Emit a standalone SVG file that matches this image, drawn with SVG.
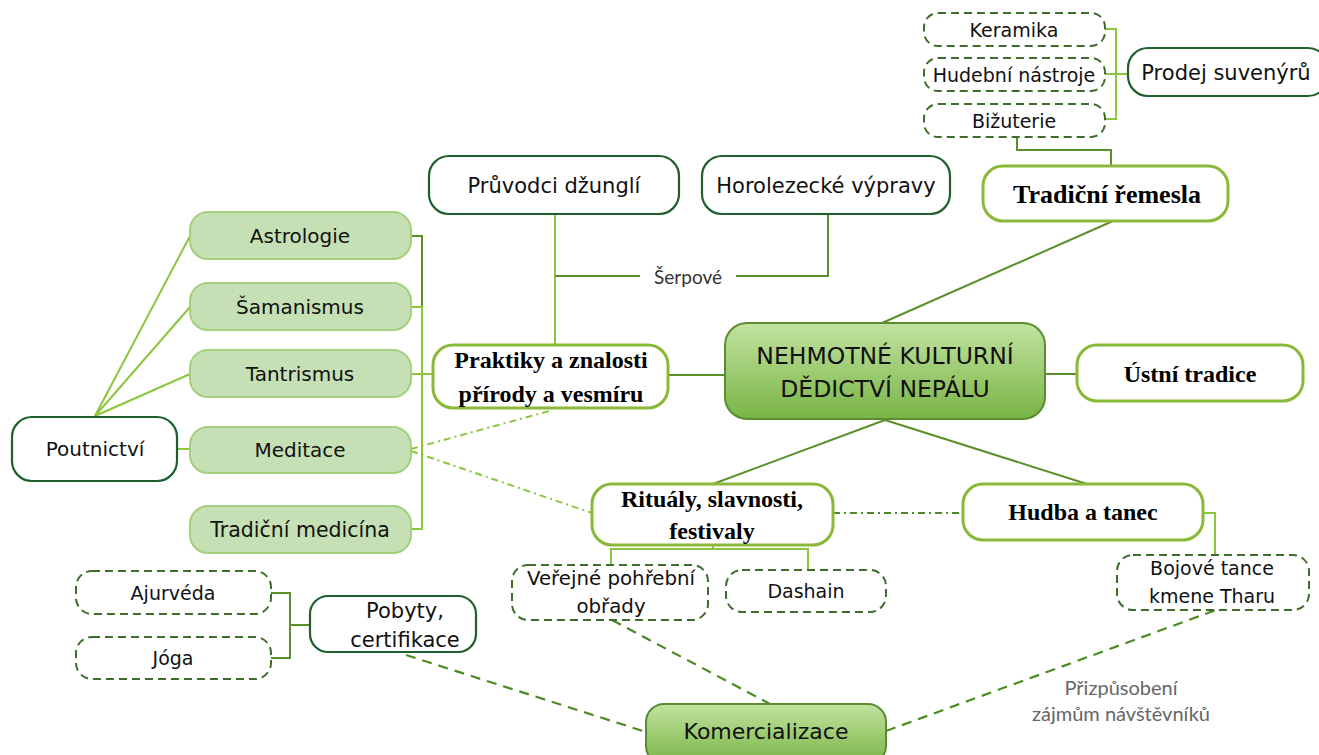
<svg xmlns="http://www.w3.org/2000/svg" width="1319" height="755" viewBox="0 0 1319 755">
<defs>
<linearGradient id="gc" x1="0" y1="0" x2="0" y2="1">
<stop offset="0" stop-color="#c2e3a0"/>
<stop offset="1" stop-color="#79b446"/>
</linearGradient>
<style>
.sans{font-family:"DejaVu Sans",Verdana,sans-serif;fill:#111;text-anchor:middle}
.serif{font-family:"Liberation Serif","Times New Roman",serif;font-weight:bold;fill:#000;text-anchor:middle;font-size:24px}
.lbl{font-family:Lato,"Open Sans",sans-serif;text-anchor:middle}
.dark{fill:#fff;stroke:#1f5f2b;stroke-width:2.2}
.lite{fill:#fff;stroke:#8ab838;stroke-width:3}
.soft{fill:#c5e0b4;stroke:#a6cf7d;stroke-width:2}
.dash{fill:#fff;stroke:#3d6d2a;stroke-width:2;stroke-dasharray:8 5}
.main{fill:url(#gc);stroke:#5a8d30;stroke-width:2}
.c1{fill:none;stroke:#8cc63f;stroke-width:2}
.c2{fill:none;stroke:#5b8f2b;stroke-width:2}
.c3{fill:none;stroke:#4c8a24;stroke-width:2.2;stroke-dasharray:10 7}
.c4{fill:none;stroke:#8cc63f;stroke-width:2;stroke-dasharray:7 4 2 4}
.c5{fill:none;stroke:#4c8a24;stroke-width:2;stroke-dasharray:7 4 2 4}
</style>
</defs>
<rect width="1319" height="755" fill="#fff"/>
<g id="connectors">
<polyline class="c1" points="1105,29 1116,29 1116,119 1105,119"/>
<line class="c1" x1="1105" y1="74" x2="1128" y2="74"/>
<polyline class="c2" points="1017,137 1017,150 1111,150 1111,166"/>
<line class="c2" x1="1113" y1="221" x2="882" y2="323"/>
<polyline class="c1" points="555,214 555,345"/>
<polyline class="c2" points="555,276 640,276"/>
<polyline class="c2" points="736,276 828,276 828,214"/>
<line class="c2" x1="668" y1="375" x2="725" y2="375"/>
<line class="c2" x1="1045" y1="374" x2="1077" y2="374"/>
<line class="c2" x1="885" y1="420" x2="713" y2="484"/>
<line class="c2" x1="885" y1="420" x2="1087" y2="484"/>
<line class="c5" x1="833" y1="513" x2="963" y2="513"/>
<polyline class="c1" points="1203,513 1215,513 1215,555"/>
<polyline class="c1" points="713,545 713,549 611,549 611,565"/>
<polyline class="c1" points="713,549 808,549 808,570"/>
<polyline class="c2" points="411,236 422,236 422,307"/>
<polyline class="c1" points="411,307 422,307 422,529 411,529"/>
<line class="c1" x1="411" y1="374" x2="433" y2="374"/>
<line class="c1" x1="95" y1="416" x2="190" y2="236"/>
<line class="c1" x1="95" y1="416" x2="190" y2="307"/>
<line class="c1" x1="95" y1="416" x2="190" y2="374"/>
<line class="c1" x1="177" y1="449" x2="190" y2="449"/>
<line class="c4" x1="411" y1="449" x2="553" y2="410"/>
<line class="c4" x1="411" y1="451" x2="592" y2="513"/>
<polyline class="c2" points="271,593 290,593 290,658 271,658"/>
<line class="c2" x1="290" y1="625" x2="310" y2="625"/>
<line class="c3" x1="612" y1="620" x2="770" y2="704"/>
<line class="c3" x1="406" y1="655" x2="646" y2="732"/>
<line class="c3" x1="886" y1="731" x2="1216" y2="610"/>
<text class="lbl" x="1121" y="695" font-size="20" fill="#666">Přizpůsobení</text>
<text class="lbl" x="1121" y="721" font-size="20" fill="#666">zájmům návštěvníků</text>
<text class="lbl" x="688" y="284" font-size="19" fill="#333">Šerpové</text>
</g>
<g id="keramika"><rect class="dash" x="924" y="13" width="181" height="33" rx="14"/><text class="sans" x="1014" y="37" font-size="19">Keramika</text></g>
<g id="hudebni"><rect class="dash" x="924" y="58" width="181" height="33" rx="14"/><text class="sans" x="1014" y="82" font-size="19">Hudební nástroje</text></g>
<g id="bizuterie"><rect class="dash" x="924" y="104" width="181" height="33" rx="14"/><text class="sans" x="1014" y="128" font-size="19">Bižuterie</text></g>
<g id="prodej"><rect class="dark" x="1128" y="48" width="200" height="48" rx="20"/><text class="sans" x="1226" y="80" font-size="21">Prodej suvenýrů</text></g>
<g id="remesla"><rect class="lite" x="983" y="166" width="245" height="55" rx="20"/><text class="serif" x="1107" y="203" style="font-size:26px">Tradiční řemesla</text></g>
<g id="pruvodci"><rect class="dark" x="429" y="156" width="250" height="58" rx="20"/><text class="sans" x="554" y="193" font-size="21">Průvodci džunglí</text></g>
<g id="horolezecke"><rect class="dark" x="702" y="156" width="248" height="58" rx="20"/><text class="sans" x="826" y="193" font-size="21">Horolezecké výpravy</text></g>
<g id="praktiky"><rect class="lite" x="433" y="345" width="235" height="63" rx="20"/><text class="serif" x="551" y="368">Praktiky a znalosti</text><text class="serif" x="551" y="402">přírody a vesmíru</text></g>
<g id="center"><rect class="main" x="725" y="323" width="320" height="96" rx="22"/><text class="sans" x="885" y="364" font-size="23.5">NEHMOTNÉ KULTURNÍ</text><text class="sans" x="885" y="397" font-size="23.5">DĚDICTVÍ NEPÁLU</text></g>
<g id="ustni"><rect class="lite" x="1077" y="345" width="226" height="56" rx="20"/><text class="serif" x="1190" y="382">Ústní tradice</text></g>
<g id="ritualy"><rect class="lite" x="592" y="484" width="241" height="61" rx="20"/><text class="serif" x="712" y="507">Rituály, slavnosti,</text><text class="serif" x="712" y="539">festivaly</text></g>
<g id="hudba"><rect class="lite" x="963" y="484" width="240" height="56" rx="20"/><text class="serif" x="1083" y="520">Hudba a tanec</text></g>
<g id="bojove"><rect class="dash" x="1117" y="555" width="192" height="55" rx="16"/><text class="sans" x="1212" y="575" font-size="19">Bojové tance</text><text class="sans" x="1212" y="603" font-size="19">kmene Tharu</text></g>
<g id="verejne"><rect class="dash" x="512" y="565" width="196" height="55" rx="16"/><text class="sans" x="611" y="585" font-size="19.8">Veřejné pohřební</text><text class="sans" x="611" y="613" font-size="19.8">obřady</text></g>
<g id="dashain"><rect class="dash" x="726" y="570" width="160" height="42" rx="16"/><text class="sans" x="806" y="598" font-size="19">Dashain</text></g>
<g id="komercializace"><rect class="main" x="646" y="704" width="240" height="60" rx="18"/><text class="sans" x="766" y="739" font-size="22">Komercializace</text></g>
<g id="pobyty"><rect class="dark" x="310" y="596" width="166" height="56" rx="18"/><text class="sans" x="405" y="618" font-size="21">Pobyty,</text><text class="sans" x="405" y="647" font-size="21">certifikace</text></g>
<g id="ajurveda"><rect class="dash" x="76" y="571" width="195" height="43" rx="16"/><text class="sans" x="173" y="600" font-size="19">Ajurvéda</text></g>
<g id="joga"><rect class="dash" x="76" y="637" width="195" height="42" rx="16"/><text class="sans" x="173" y="665" font-size="19">Jóga</text></g>
<g id="astrologie"><rect class="soft" x="190" y="212" width="221" height="47" rx="18"/><text class="sans" x="300" y="243" font-size="20" fill="#333">Astrologie</text></g>
<g id="samanismus"><rect class="soft" x="190" y="283" width="221" height="47" rx="18"/><text class="sans" x="300" y="314" font-size="20" fill="#333">Šamanismus</text></g>
<g id="tantrismus"><rect class="soft" x="190" y="350" width="221" height="47" rx="18"/><text class="sans" x="300" y="381" font-size="20" fill="#333">Tantrismus</text></g>
<g id="meditace"><rect class="soft" x="190" y="427" width="221" height="46" rx="18"/><text class="sans" x="300" y="457" font-size="20" fill="#333">Meditace</text></g>
<g id="medicina"><rect class="soft" x="190" y="506" width="221" height="47" rx="18"/><text class="sans" x="300" y="537" font-size="20.5" fill="#333">Tradiční medicína</text></g>
<g id="poutnictvi"><rect class="dark" x="12" y="417" width="165" height="64" rx="20"/><text class="sans" x="95" y="456" font-size="20">Poutnictví</text></g>
</svg>
